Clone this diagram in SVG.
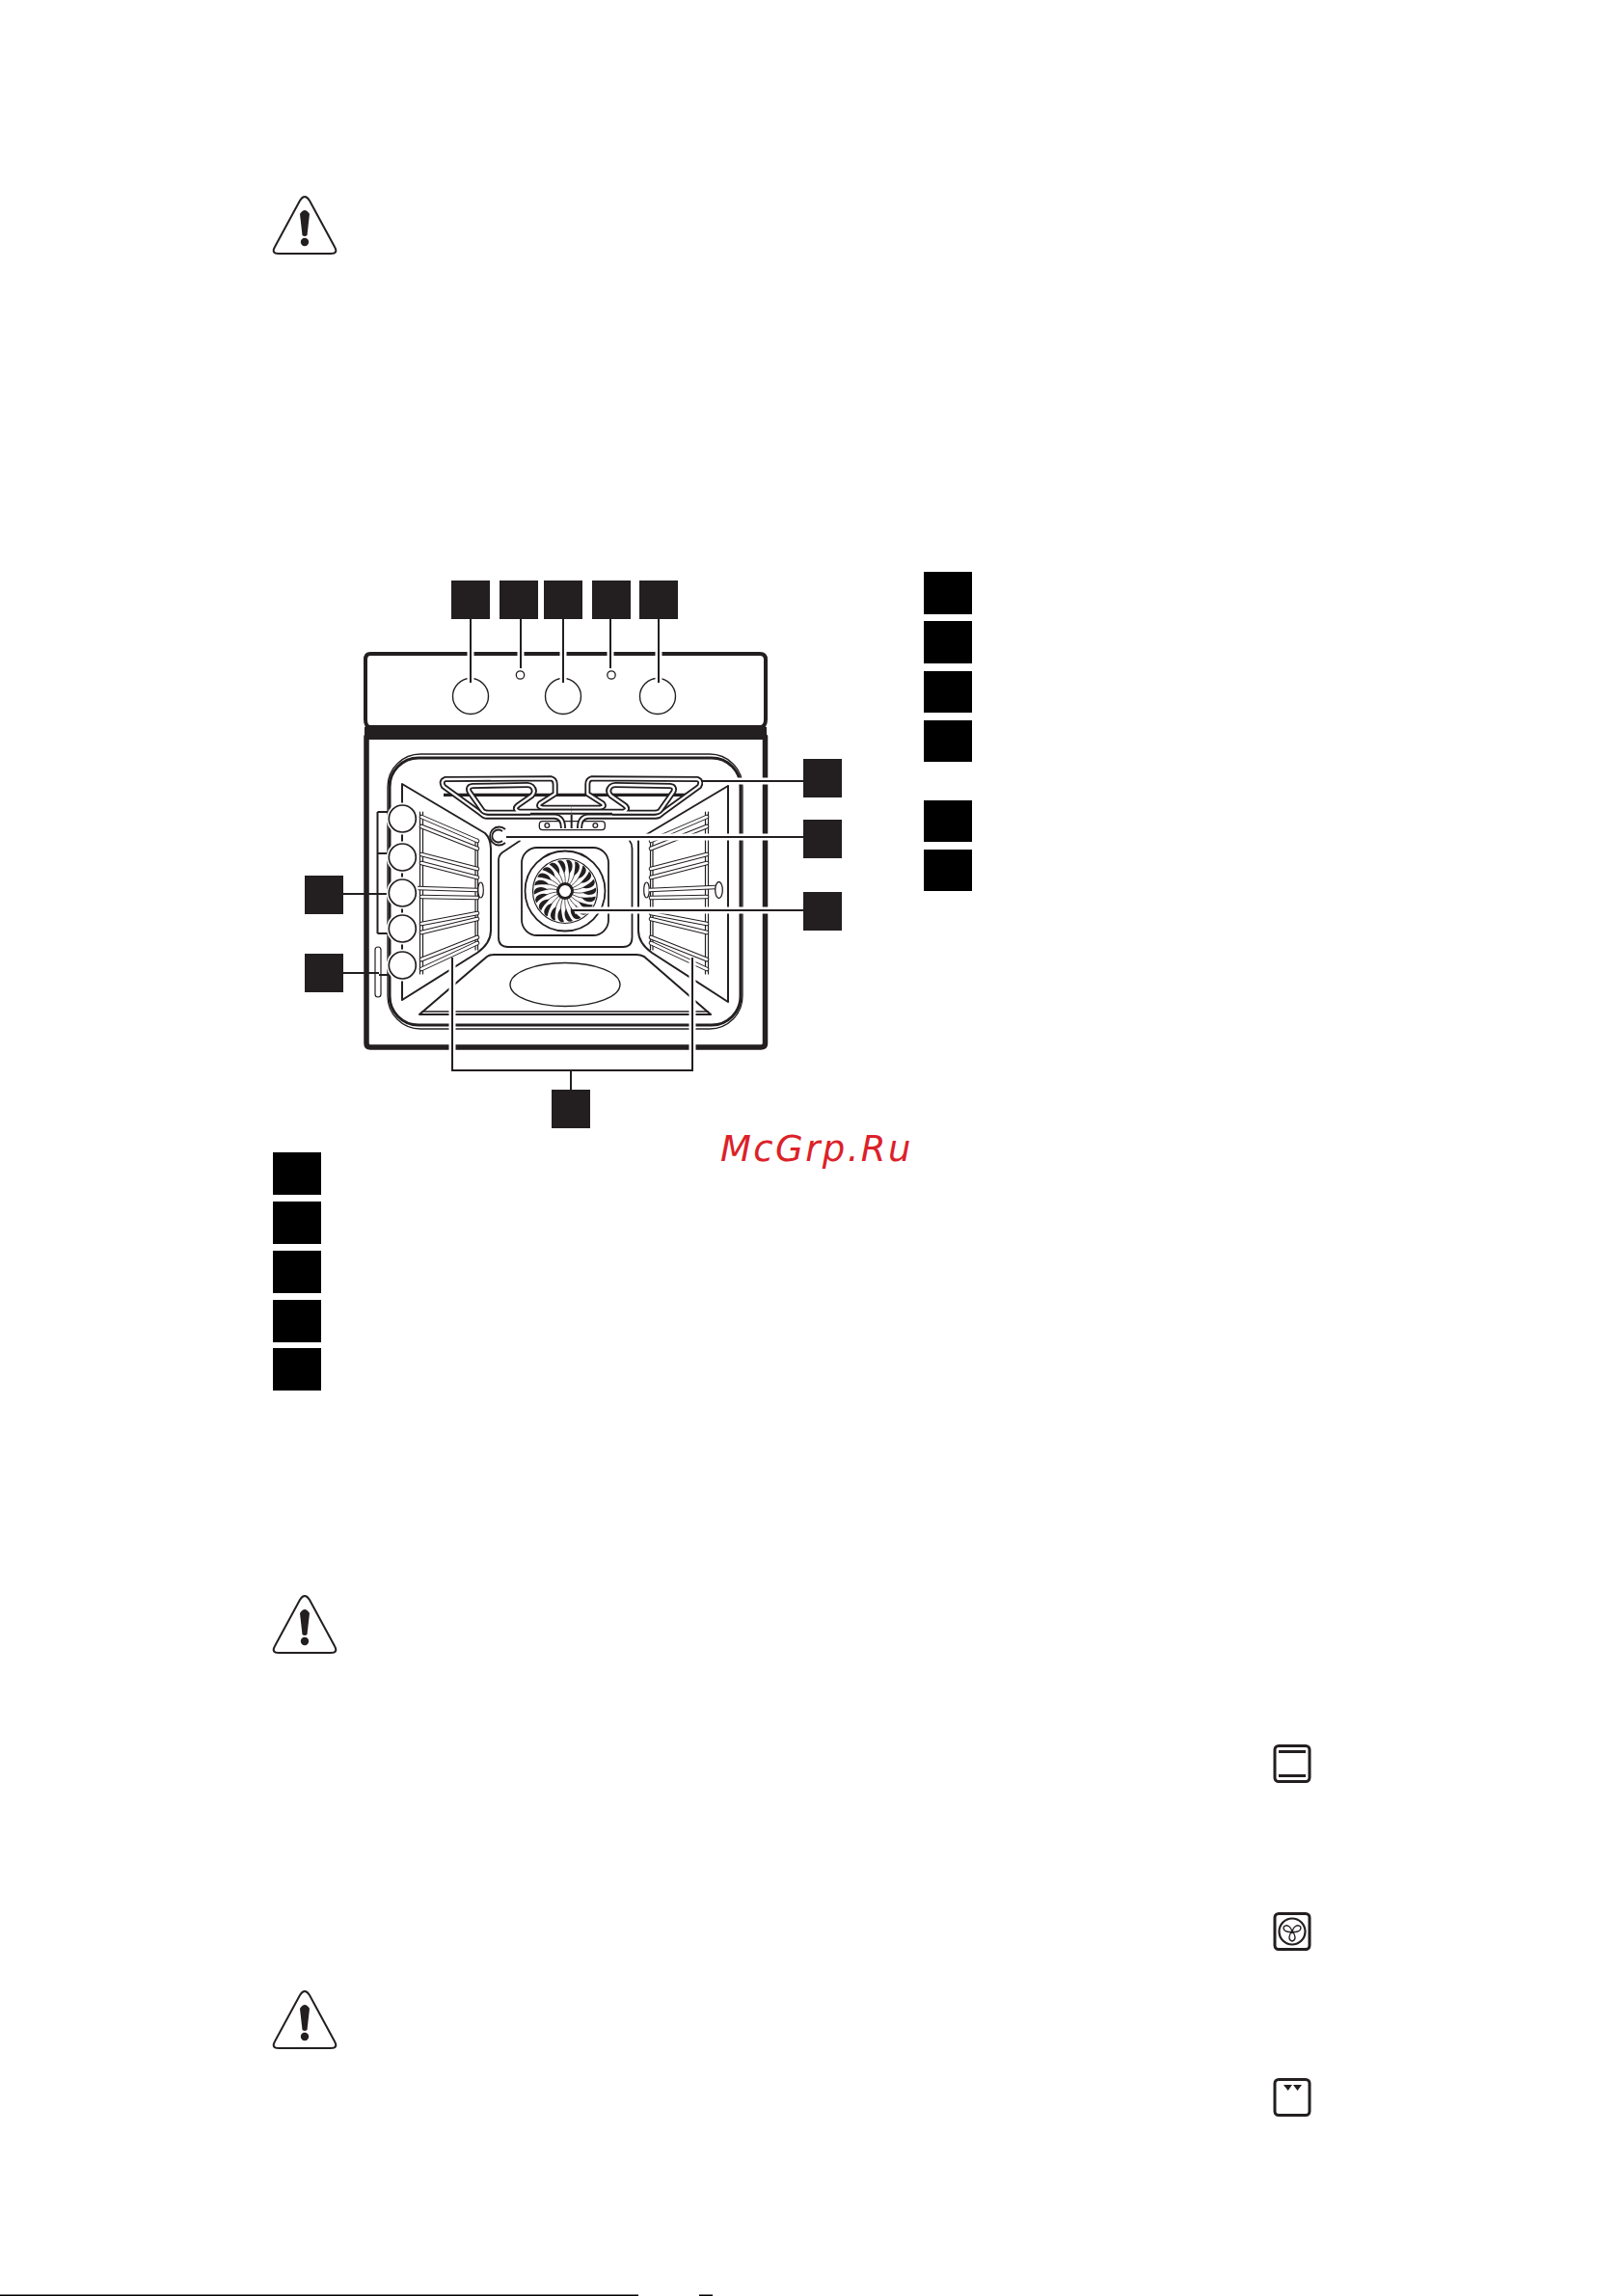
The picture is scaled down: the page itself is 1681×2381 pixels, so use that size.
<svg xmlns="http://www.w3.org/2000/svg" xmlns:xlink="http://www.w3.org/1999/xlink" width="1681" height="2381" viewBox="0 0 1681 2381">
<style>
.k{fill:none;stroke:#231f20;stroke-linecap:round;stroke-linejoin:round}
.w{fill:#fff;stroke:#231f20}
.sq{fill:#231f20}
.bk{fill:#000}
.halo{fill:none;stroke:#fff;stroke-width:7}
.ld{fill:none;stroke:#231f20;stroke-width:2}
.railb{fill:none;stroke:#231f20;stroke-width:4.600;stroke-linecap:round}
.railw{fill:none;stroke:#fff;stroke-width:2.600;stroke-linecap:round}
.tb{fill:none;stroke:#231f20;stroke-width:18;stroke-linejoin:round;stroke-linecap:butt}
.tw{fill:none;stroke:#fff;stroke-width:7;stroke-linejoin:round;stroke-linecap:butt}
</style>
<defs>
<g id="warn">
<path d="M-5 5Q0-3 5 5L31 53Q35 60 27 60L-27 60Q-35 60-31 53Z" fill="none" stroke="#231f20" stroke-width="2"/>
<path d="M-5 19Q0 11 5 19L2.500 41Q0 43-2.500 41Z" fill="#231f20"/>
<circle cx="0" cy="48" r="4.200" fill="#231f20"/>
</g>
<g id="blade">
<path d="M-1-18C-3-23-5-28-8-31C-4.500-33-1-31 0-27C1-24 .5-21-1-18Z" fill="#231f20"/>
<path d="M0-6C.5-12 0-16-1-19" fill="none" stroke="#231f20" stroke-width=".7"/>
</g>
<g id="rack">
<path class="k" stroke-width="1.200" d="M435.500 842V1010M438.500 842V1010M493 870V985M495.500 870V985"/>
<path class="railb" d="M437 847L495 872M437 857L495 880M437 886L495 901M437 895L495 910M437 930L495 931M437 958L495 947M437 967L495 953M437 995L495 972M437 1005L495 978"/>
<path class="railw" d="M437 847L495 872M437 857L495 880M437 886L495 901M437 895L495 910M437 930L495 931M437 958L495 947M437 967L495 953M437 995L495 972M437 1005L495 978"/>
</g>
<g id="elem">
<path class="tb" d="M402 192C402 170 395 156 375 155L165 155Q155 155 145 145L30 62Q20 45 35 39L365 37Q377 40 377 55L377 85L330 115Q322 125 338 128L428 128"/>
<path class="tw" d="M402 192C402 170 395 156 375 155L165 155Q155 155 145 145L30 62Q20 45 35 39L365 37Q377 40 377 55L377 85L330 115Q322 125 338 128L428 128"/>
<path class="tb" d="M428 140L265 140Q246 132 262 120L305 90Q318 75 305 62Q300 57 290 57L120 60Q103 62 110 78L150 135Q155 143 170 143L300 143"/>
<path class="tw" d="M428 140L265 140Q246 132 262 120L305 90Q318 75 305 62Q300 57 290 57L120 60Q103 62 110 78L150 135Q155 143 170 143L300 143"/>
</g>
</defs>
<rect width="1681" height="2381" fill="#fff"/>

<g id="warning-1"><use href="#warn" x="316" y="203"/></g>
<g id="warning-2"><use href="#warn" x="316" y="1654"/></g>
<g id="warning-3"><use href="#warn" x="316" y="2064"/></g>

<g id="oven">
<path class="k" stroke-width="4" d="M384 678H788Q794 678 794 684V746Q794 754 788 754H384Q379 754 379 746V684Q379 678 384 678Z"/>
<rect x="378" y="754" width="417" height="13" fill="#231f20"/>
<path class="k" stroke-width="5.500" d="M380 764V1082Q380 1086 384 1086H789Q793.500 1086 793.500 1082V764"/>
<rect x="402" y="782" width="368" height="285" rx="34" fill="none" stroke="#231f20" stroke-width="1.300"/>
<rect x="404" y="786" width="364" height="277" rx="30" fill="none" stroke="#231f20" stroke-width="3"/>

<circle cx="488" cy="722" r="18.500" class="w" stroke-width="1.400"/>
<circle cx="584" cy="722" r="18.500" class="w" stroke-width="1.400"/>
<circle cx="682" cy="722" r="18.500" class="w" stroke-width="1.400"/>
<circle cx="539.500" cy="700" r="4.200" class="w" stroke-width="1.300"/>
<circle cx="634" cy="700" r="4.200" class="w" stroke-width="1.300"/>

<path class="k" stroke-width="2" d="M417 813L503 864Q509 870 509 880V965Q509 978 495 988L417 1037Z"/>
<path class="k" stroke-width="2" d="M755 815L671 865M662 872V965Q662 978 676 988L755 1039V815"/>
<path class="k" stroke-width="2" d="M435 1052L505 992Q508 990 512 990H660Q664 990 668 992L737 1052Z"/>
<path class="k" stroke-width="1.500" d="M438 1049H734"/>
<ellipse cx="586" cy="1021" rx="57" ry="22.500" class="w" stroke-width="1.400"/>

<use href="#rack"/>
<g transform="translate(1170 0) scale(-1 1)"><use href="#rack"/></g>

<path d="M433 921L495 923" fill="none" stroke="#231f20" stroke-width="4.600"/>
<path d="M433 921L495 923" fill="none" stroke="#fff" stroke-width="2.600"/>
<ellipse cx="498.500" cy="923" rx="2.800" ry="8" fill="none" stroke="#231f20" stroke-width="1.200"/>
<ellipse cx="670.500" cy="923" rx="2.800" ry="8" fill="none" stroke="#231f20" stroke-width="1.200"/>
<path d="M673 923L742 920" fill="none" stroke="#231f20" stroke-width="4.600"/>
<path d="M673 923L742 920" fill="none" stroke="#fff" stroke-width="2.600"/>
<ellipse cx="745.500" cy="923" rx="3.800" ry="8.500" class="w" stroke-width="1.300"/>

<path class="k" stroke-width="1.800" d="M539 872L521 884Q517 887 517 892V972Q517 982 527 982H646Q655.500 982 655.500 972V880Q655.500 875 653 872"/>
<rect x="541" y="879" width="90" height="91" rx="16" fill="#fff" stroke="#231f20" stroke-width="1.800"/>
<circle cx="586" cy="924" r="41.500" class="w" stroke-width="1.800"/>
<circle cx="586" cy="924" r="33.500" class="w" stroke-width="1.200"/>
<g id="fan" transform="translate(586 924)">
<use href="#blade"/><use href="#blade" transform="rotate(16.360)"/><use href="#blade" transform="rotate(32.730)"/><use href="#blade" transform="rotate(49.090)"/><use href="#blade" transform="rotate(65.450)"/><use href="#blade" transform="rotate(81.820)"/><use href="#blade" transform="rotate(98.180)"/><use href="#blade" transform="rotate(114.550)"/><use href="#blade" transform="rotate(130.910)"/><use href="#blade" transform="rotate(147.270)"/><use href="#blade" transform="rotate(163.640)"/><use href="#blade" transform="rotate(180)"/><use href="#blade" transform="rotate(196.360)"/><use href="#blade" transform="rotate(212.730)"/><use href="#blade" transform="rotate(229.090)"/><use href="#blade" transform="rotate(245.450)"/><use href="#blade" transform="rotate(261.820)"/><use href="#blade" transform="rotate(278.180)"/><use href="#blade" transform="rotate(294.550)"/><use href="#blade" transform="rotate(310.910)"/><use href="#blade" transform="rotate(327.270)"/><use href="#blade" transform="rotate(343.640)"/>
<circle r="7.500" fill="none" stroke="#231f20" stroke-width="3"/>
<circle r="5.500" fill="#fff"/>
</g>

<g id="grill" transform="translate(450 795) scale(.33333)">
<path d="M30 88H790" fill="none" stroke="#231f20" stroke-width="10"/>
<rect x="328" y="170" width="204" height="27" rx="10" fill="#fff" stroke="#231f20" stroke-width="4"/>
<ellipse cx="352" cy="183" rx="7" ry="7" fill="none" stroke="#231f20" stroke-width="4"/>
<ellipse cx="502" cy="183" rx="7" ry="7" fill="none" stroke="#231f20" stroke-width="4"/>
<path d="M428 150V192" fill="none" stroke="#231f20" stroke-width="6"/>
<use href="#elem"/>
<g transform="translate(855 0) scale(-1 1)"><use href="#elem"/></g>
</g>
<path d="M524 860A9.500 9.500 0 1 0 524 874M521 862A6.500 6.500 0 1 0 521 872" fill="none" stroke="#231f20" stroke-width="1.800"/>
<rect x="389" y="982" width="6" height="52" rx="3" fill="#fff" stroke="#231f20" stroke-width="1.200"/>
</g>

<g id="connectors">
<path class="halo" d="M488 646V706M540 646V692M584 646V706M633 646V692M683 646V706M729 810H829M527 868H829M596 944H829M469 995V1106H718V995M592 1114V1126"/>
<path class="ld" d="M488 642V708M540 642V693M584 642V708M633 642V693M683 642V708M727 810H833M525 868H833M592 944H833M469 993V1110H718V993M592 1110V1130M356 927H401M356 1009H393M393 1011H404M391.500 842V968M391.500 842H403M391.500 885H403M391.500 968H403"/>
</g>

<g id="shelf-circles">
<circle cx="417.300" cy="849" r="16.500" fill="#fff"/><circle cx="417.300" cy="889" r="16.500" fill="#fff"/><circle cx="417.300" cy="926" r="16.500" fill="#fff"/><circle cx="417.300" cy="963" r="16.500" fill="#fff"/><circle cx="417.300" cy="1001" r="16.500" fill="#fff"/>
<circle cx="417.300" cy="849" r="14" class="w" stroke-width="1.700"/>
<circle cx="417.300" cy="889" r="14" class="w" stroke-width="1.700"/>
<circle cx="417.300" cy="926" r="14" class="w" stroke-width="1.700"/>
<circle cx="417.300" cy="963" r="14" class="w" stroke-width="1.700"/>
<circle cx="417.300" cy="1001" r="14" class="w" stroke-width="1.700"/>
</g>

<g id="node-top-1"><rect class="sq" x="468" y="602" width="40" height="40"/></g>
<g id="node-top-2"><rect class="sq" x="518" y="602" width="40" height="40"/></g>
<g id="node-top-3"><rect class="sq" x="564" y="602" width="40" height="40"/></g>
<g id="node-top-4"><rect class="sq" x="614" y="602" width="40" height="40"/></g>
<g id="node-top-5"><rect class="sq" x="663" y="602" width="40" height="40"/></g>
<g id="node-right-1"><rect class="sq" x="833" y="787" width="40" height="40"/></g>
<g id="node-right-2"><rect class="sq" x="833" y="850" width="40" height="40"/></g>
<g id="node-right-3"><rect class="sq" x="833" y="925" width="40" height="40"/></g>
<g id="node-left-1"><rect class="sq" x="316" y="908" width="40" height="40"/></g>
<g id="node-left-2"><rect class="sq" x="316" y="989" width="40" height="40"/></g>
<g id="node-bottom"><rect class="sq" x="572" y="1130" width="40" height="40"/></g>

<g id="key-right">
<rect class="bk" x="958" y="593" width="50" height="44"/>
<rect class="bk" x="958" y="644" width="50" height="44"/>
<rect class="bk" x="958" y="696" width="50" height="43"/>
<rect class="bk" x="958" y="747" width="50" height="43"/>
<rect class="bk" x="958" y="830" width="50" height="43"/>
<rect class="bk" x="958" y="881" width="50" height="43"/>
</g>
<g id="key-left">
<rect class="bk" x="283" y="1195" width="50" height="44"/>
<rect class="bk" x="283" y="1246" width="50" height="44"/>
<rect class="bk" x="283" y="1297" width="50" height="44"/>
<rect class="bk" x="283" y="1348" width="50" height="44"/>
<rect class="bk" x="283" y="1398" width="50" height="44"/>
</g>

<text id="watermark" x="747" y="1204" font-family="'DejaVu Sans',sans-serif" font-style="italic" font-size="37" letter-spacing="2.400" fill="#dc2128">McGrp.Ru</text>

<g id="icon-1">
<rect x="1322" y="1810.500" width="36" height="37" rx="4" fill="#fff" stroke="#231f20" stroke-width="3"/>
<rect x="1326" y="1815" width="28" height="3" fill="#231f20"/>
<rect x="1326" y="1840" width="28" height="3" fill="#231f20"/>
</g>
<g id="icon-2">
<rect x="1322" y="1984.500" width="36" height="37" rx="4" fill="#fff" stroke="#231f20" stroke-width="3"/>
<circle cx="1340" cy="2003" r="13.500" fill="none" stroke="#231f20" stroke-width="2.200"/>
<g transform="translate(1340 2003)" fill="none" stroke="#231f20" stroke-width="1.400" stroke-linejoin="round">
<path id="lobe" d="M0 0C-3.500-3-4.500-9 0-10C4.500-9 3.500-3 0 0Z" transform="rotate(-60)"/>
<path d="M0 0C-3.500-3-4.500-9 0-10C4.500-9 3.500-3 0 0Z" transform="rotate(60)"/>
<path d="M0 0C-3.500-3-4.500-9 0-10C4.500-9 3.500-3 0 0Z" transform="rotate(180)"/>
</g>
</g>
<g id="icon-3">
<rect x="1322" y="2156.500" width="36" height="37" rx="4" fill="#fff" stroke="#231f20" stroke-width="3"/>
<path d="M1331 2162H1340L1335.700 2168ZM1341 2162H1350L1345.500 2168Z" fill="#231f20"/>
</g>

<g id="footer">
<rect x="0" y="2379.500" width="662" height="1.500" fill="#000"/>
<rect x="725" y="2379.500" width="14" height="1.500" fill="#000"/>
</g>
</svg>
